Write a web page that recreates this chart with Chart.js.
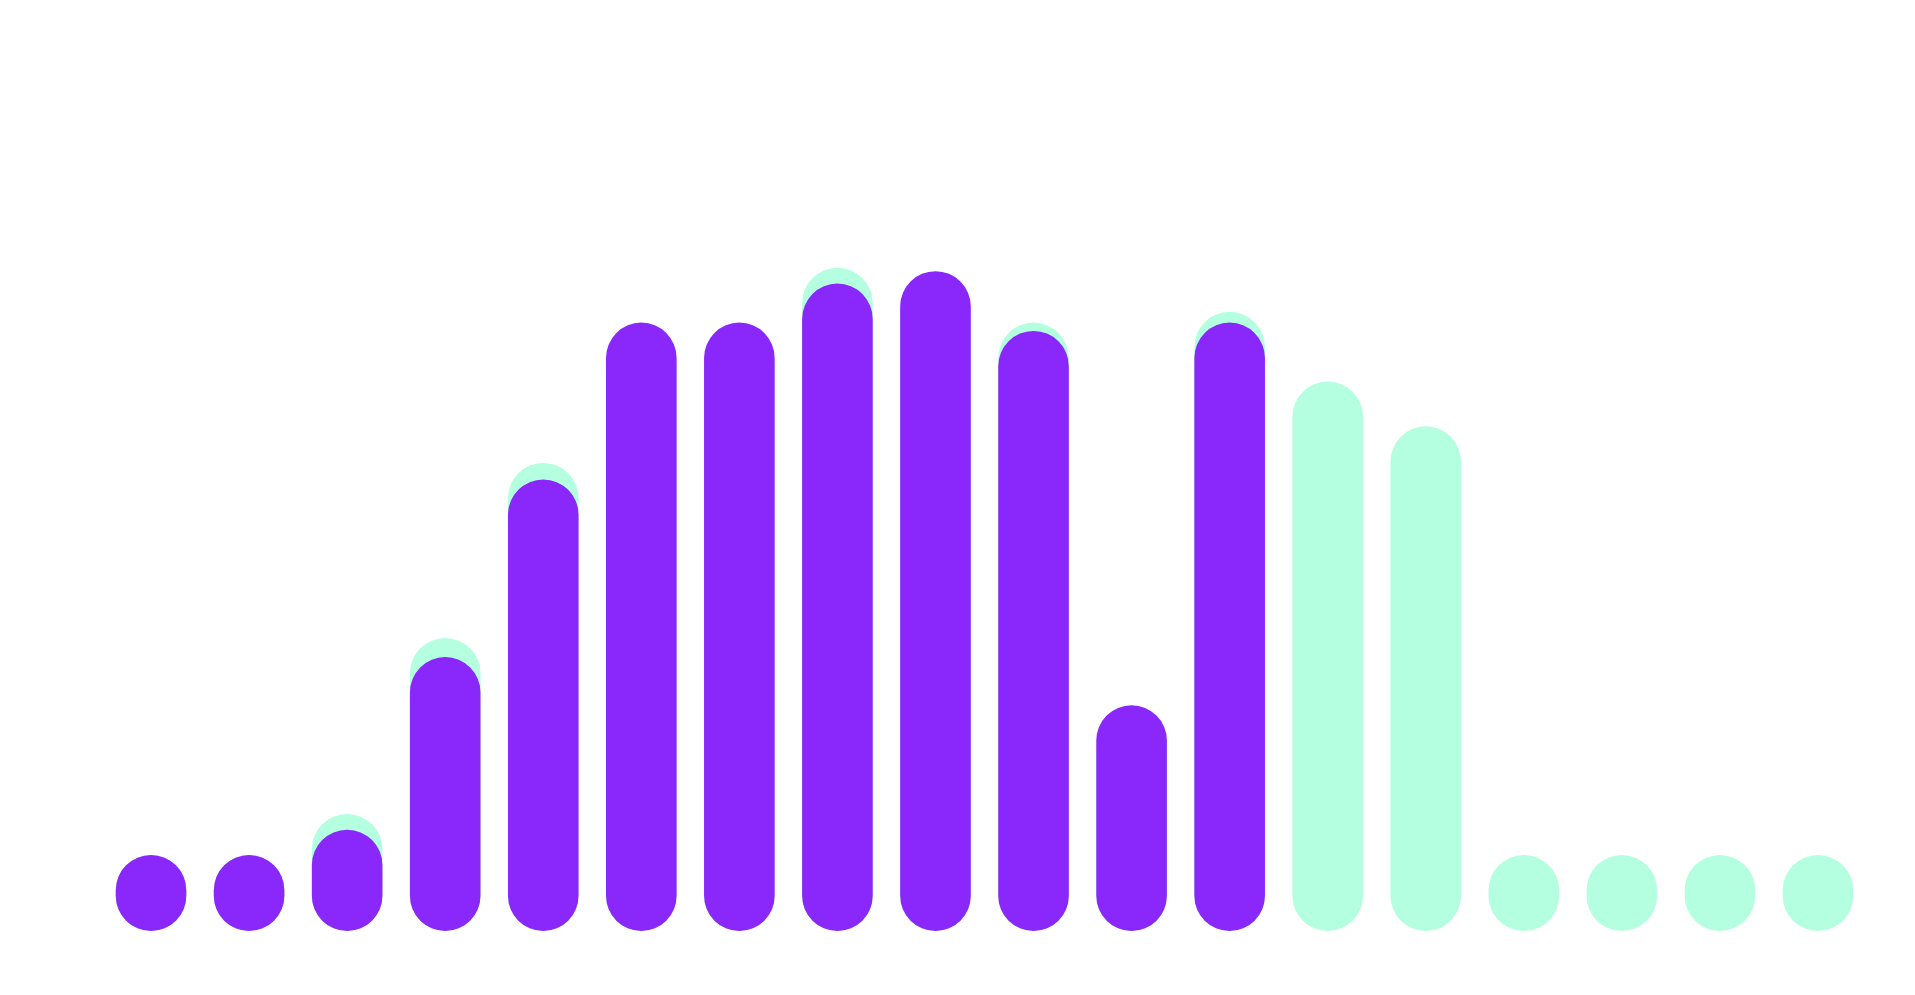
<!DOCTYPE html>
<html>
<head>
<meta charset="utf-8">
<script src="https://cdn.jsdelivr.net/npm/chart.js@4"></script>
<style>
  html, body { margin: 0; padding: 0; background: #fff; }
  #wrap { width: 1915px; height: 995px; position: relative; }
</style>
</head>
<body>
<div id="wrap"><canvas id="bar-chart"></canvas></div>
<script>
// categories (no labels are shown on the chart)
var labels = ["1", "2", "3", "4", "5", "6", "7", "8", "9", "10", "11", "12", "13", "14", "15", "16", "17", "18"];

// purple series (front)
var current = [0, 0, 12.2, 33.0, 54.4, 73.3, 73.3, 78.0, 79.5, 72.3, 27.2, 73.3, null, null, null, null, null, null];

// green series (behind)
var previous = [0, 0, 14.1, 35.3, 56.4, 72.0, 72.0, 79.9, 78.5, 73.3, 26.0, 74.6, 66.2, 60.8, 0, 0, 0, 0];

var purple = "rgb(138, 39, 250)";
var mint = "rgb(179, 255, 224)";

var bar_chart = new Chart(document.getElementById("bar-chart"), {
    type: 'bar',
    data: {
      labels: labels,
      datasets: [
        {
          label: "Current",
          data: current,
          backgroundColor: purple,
          borderRadius: 100,
          borderSkipped: false,
          minBarLength: 76,
          grouped: false
        },
        {
          label: "Previous",
          data: previous,
          backgroundColor: mint,
          borderRadius: 100,
          borderSkipped: false,
          minBarLength: 76,
          grouped: false
        }
      ]
    },
    options: {
      responsive: true,
      maintainAspectRatio: false,
      animation: false,
      layout: {
        padding: { left: 102, right: 48, top: 101, bottom: 64 }
      },
      scales: {
        x: { display: false },
        y: { display: false, min: 0, max: 100 }
      },
      plugins: {
        legend: { display: false },
        tooltip: { enabled: false }
      }
    }
});
</script>
</body>
</html>
